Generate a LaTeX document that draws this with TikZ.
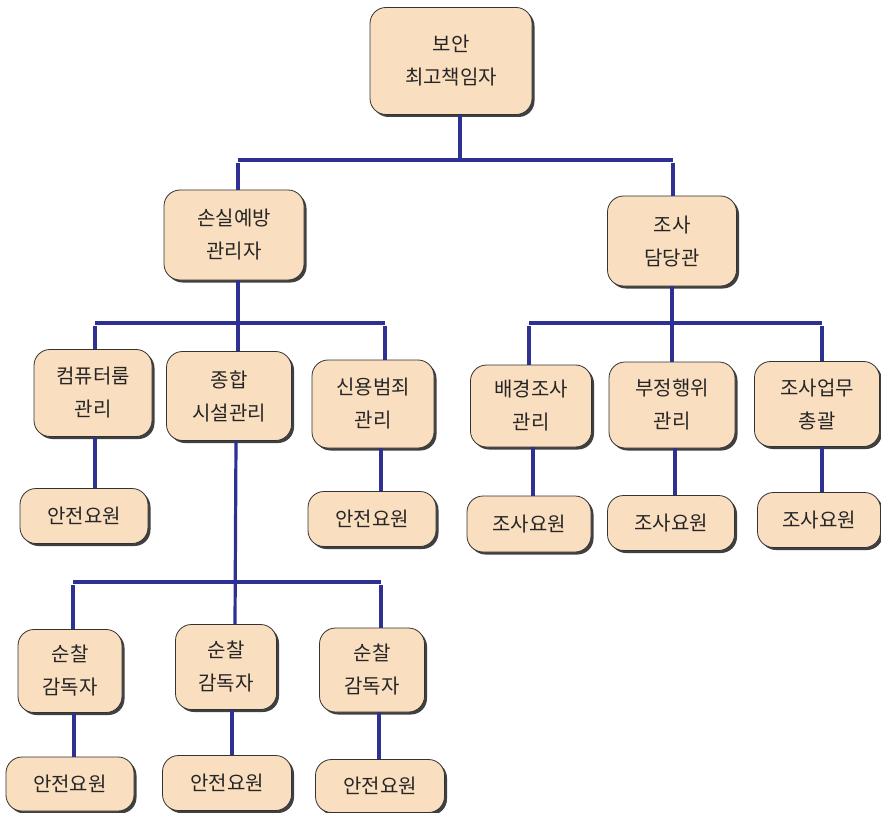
\documentclass[tikz,border=0pt]{standalone}
\usepackage{fontspec}
\newfontfamily\kr{Noto Sans CJK KR}
\usepackage{tikz}
\usetikzlibrary{positioning, shadows}

\definecolor{boxfill}{RGB}{250,222,192}
\definecolor{wireblue}{RGB}{46,49,146}

\tikzset{
  box/.style={draw=black!80, line width=0.8pt, fill=boxfill, rounded corners=16pt,
    align=center, text=black!85, inner sep=0pt,
    font=\kr\fontsize{20}{33}\selectfont,
    drop shadow={shadow xshift=2.5pt, shadow yshift=-2.5pt, fill=black!75, opacity=1}},
  wire/.style={draw=wireblue, line width=3.2pt}
}

\begin{document}
\begin{tikzpicture}[x=1pt, y=-1pt]
  \useasboundingbox (0,0) rectangle (881,813);

  % level 0 and 1
  \node[box, minimum width=162, minimum height=107] (top) at (451,61) {보안\\최고책임자};
  \node[box, minimum width=140, minimum height=90] (loss) at (234,235) {손실예방\\관리자};
  \node[box, minimum width=129, minimum height=90] (inv) at (672,241) {조사\\담당관};

  % level 2, left
  \node[box, minimum width=118, minimum height=87] (comp) at (93,393) {컴퓨터룸\\관리};
  \node[box, minimum width=125, minimum height=89] (fac) at (229,396) {종합\\시설관리};
  \node[box, minimum width=122, minimum height=88] (credit) at (373,404) {신용범죄\\관리};
  \node[box, minimum width=128, minimum height=55] (g1) at (84,516) {안전요원};
  \node[box, minimum width=128, minimum height=55] (g2) at (372,519) {안전요원};

  % level 2, right
  \node[box, minimum width=121, minimum height=82] (bg) at (531,406) {배경조사\\관리};
  \node[box, minimum width=126, minimum height=86] (fraud) at (672,405) {부정행위\\관리};
  \node[box, minimum width=125, minimum height=85] (gen) at (817,404) {조사업무\\총괄};
  \node[box, minimum width=124, minimum height=56] (a1) at (529,524) {조사요원};
  \node[box, minimum width=127, minimum height=55] (a2) at (671,523) {조사요원};
  \node[box, minimum width=123, minimum height=55] (a3) at (819,520) {조사요원};

  % patrol
  \node[box, minimum width=104, minimum height=83] (p1) at (70,671) {순찰\\감독자};
  \node[box, minimum width=101, minimum height=85] (p2) at (226,667) {순찰\\감독자};
  \node[box, minimum width=105, minimum height=84] (p3) at (372,670) {순찰\\감독자};
  \node[box, minimum width=128, minimum height=54] (s1) at (70,784) {안전요원};
  \node[box, minimum width=129, minimum height=55] (s2) at (227,783) {안전요원};
  \node[box, minimum width=129, minimum height=53] (s3) at (380,786) {안전요원};

  % buses
  \coordinate (b0l) at (238,160);
  \coordinate (b0r) at (673,160);
  \coordinate (b1l) at (95,323);
  \coordinate (b1r) at (385,323);
  \coordinate (b2l) at (529,323);
  \coordinate (b2r) at (822,323);
  \coordinate (b3l) at (73,582);
  \coordinate (b3r) at (381,582);

  \draw[wire] (b0l) -- (b0r);
  \draw[wire] (b1l) -- (b1r);
  \draw[wire] (b2l) -- (b2r);
  \draw[wire] (b3l) -- (b3r);

  \draw[wire] ([xshift=9pt]top.south) -- ([xshift=9pt]top.south |- b0l);
  \draw[wire] ([yshift=-3pt]b0l) -- (b0l |- loss.north);
  \draw[wire] ([yshift=-3pt]b0r) -- (b0r |- inv.north);

  \draw[wire] ([xshift=4pt]loss.south) -- ([xshift=9pt]fac.north);
  \draw[wire] ([yshift=-3pt]b1l) -- (b1l |- comp.north);
  \draw[wire] ([yshift=-3pt]b1r) -- (b1r |- credit.north);
  \draw[wire] (comp.south -| b1l) -- (g1.north -| b1l);
  \draw[wire] ([xshift=8pt]credit.south) -- ([xshift=9pt]g2.north);

  \draw[wire] (inv.south) -- (fraud.north);
  \draw[wire] ([yshift=-3pt]b2l) -- (b2l |- bg.north);
  \draw[wire] ([yshift=-3pt]b2r) -- (b2r |- gen.north);
  \draw[wire] ([xshift=2pt]bg.south) -- ([xshift=4pt]a1.north);
  \draw[wire] ([xshift=3pt]fraud.south) -- ([xshift=4pt]a2.north);
  \draw[wire] ([xshift=5pt]gen.south) -- ([xshift=3pt]a3.north);

  \draw[wire] ([xshift=7pt]fac.south) -- ([xshift=9pt]p2.north);
  \draw[wire] ([yshift=-3pt]b3l) -- (b3l |- p1.north);
  \draw[wire] ([yshift=-3pt]b3r) -- (b3r |- p3.north);
  \draw[wire] ([xshift=4pt]p1.south) -- ([xshift=4pt]s1.north);
  \draw[wire] ([xshift=6pt]p2.south) -- ([xshift=5pt]s2.north);
  \draw[wire] ([xshift=7pt]p3.south) -- ([xshift=-1pt]s3.north);
\end{tikzpicture}
\end{document}
